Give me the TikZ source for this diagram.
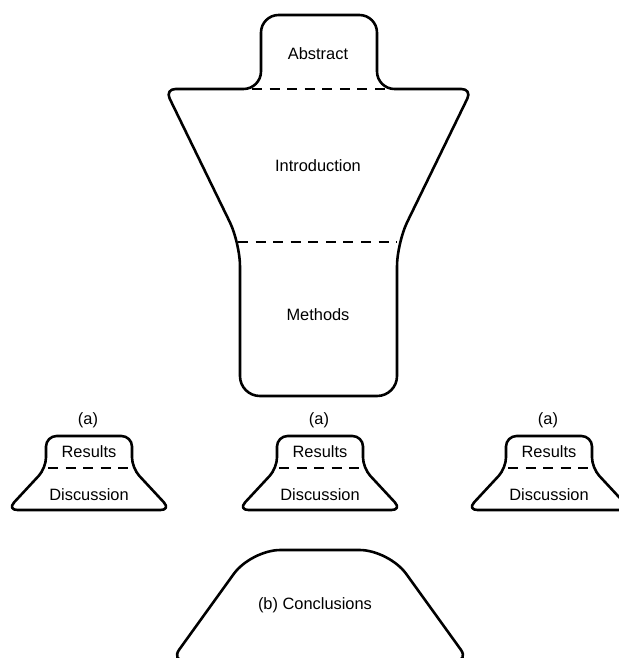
\documentclass[tikz,border=0pt]{standalone}
\usepackage{fontspec}
\setmainfont{Liberation Sans}
\usepackage{tikz}

\begin{document}
\begin{tikzpicture}[x=0.03cm, y=-0.03cm,
        outline/.style={line width=2.2pt, black, line join=round},
        divider/.style={line width=2.2pt, black, dash pattern=on 8.5pt off 6.5pt},
        txt/.style={font=\fontsize{14}{16}\selectfont, inner sep=0pt}]
        \clip (0,0) rectangle (619,658);
        % main body: abstract, introduction, methods
        \draw[outline] (319,15) [rounded corners=15pt] -- (377,15) -- (377,89) [rounded corners=9pt] -- (472,89) [rounded corners=20pt] -- (397,243) [rounded corners=17pt] -- (397,396) -- (240,396) [rounded corners=20pt] -- (240,243) [rounded corners=9pt] -- (165,89) [rounded corners=15pt] -- (261,89) -- (261,15) -- cycle;
        \draw[divider] (252,89) -- (393,89);
        \draw[divider] (238,242) -- (397,242);
        \node[txt] (abstract) at (318,54) {Abstract};
        \node[txt] (intro) at (318,166) {Introduction};
        \node[txt] (methods) at (318,315) {Methods};
        % results and discussion
        \foreach \cx/\n in {89/1, 320/2, 549/3} {
            \draw[outline] (\cx,436) [rounded corners=9pt] -- (\cx+43,436) -- (\cx+43,468) -- (\cx+82,510) -- (\cx-82,510) -- (\cx-43,468) -- (\cx-43,436) -- cycle;
            \draw[divider] (\cx-41,468) -- (\cx+43,468);
            \node[txt] (tag\n) at (\cx-1,420) {(a)};
            \node[txt] (results\n) at (\cx,452) {Results};
            \node[txt] (discussion\n) at (\cx,495) {Discussion};
        }
        % conclusions
        \draw[outline] (320,550) [rounded corners=25pt] -- (389,550) [rounded corners=12pt] -- (469,661) -- (171,661) [rounded corners=25pt] -- (251,550) -- cycle;
        \node[txt] (conclusions) at (315,605) {(b) Conclusions};
\end{tikzpicture}
\end{document}
